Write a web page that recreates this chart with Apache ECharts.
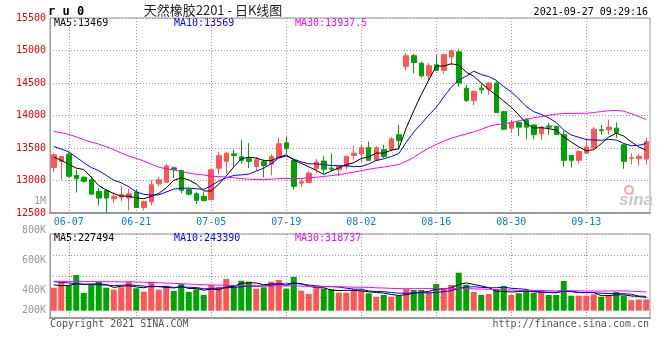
<!DOCTYPE html>
<html><head><meta charset="utf-8">
<script src="https://cdn.jsdelivr.net/npm/echarts@6.0.0/dist/echarts.min.js"></script>
<style>html,body{margin:0;padding:0;background:#fff}#c{width:660px;height:360px}</style>
</head><body><div id="c"></div>
<script>
const dates = ['06-03','06-04','06-07','06-08','06-09','06-10','06-11','06-15','06-16','06-17','06-18','06-21','06-22','06-23','06-24','06-25','06-28','06-29','06-30','07-01','07-02','07-05','07-06','07-07','07-08','07-09','07-12','07-13','07-14','07-15','07-16','07-19','07-20','07-21','07-22','07-23','07-26','07-27','07-28','07-29','07-30','08-02','08-03','08-04','08-05','08-06','08-09','08-10','08-11','08-12','08-13','08-16','08-17','08-18','08-19','08-20','08-23','08-24','08-25','08-26','08-27','08-30','08-31','09-01','09-02','09-03','09-06','09-07','09-08','09-09','09-10','09-13','09-14','09-15','09-16','09-17','09-22','09-23','09-24','09-27'];
const opens = [13200,13295,13405,13080,13050,13010,12830,12845,12720,12745,12730,12820,12585,12670,12950,12975,13195,13155,12860,12795,12755,12705,13190,13295,13410,13365,13335,13215,13290,13250,13355,13580,13310,12960,12970,13180,13300,13190,13165,13215,13385,13410,13505,13310,13475,13475,13705,14755,14920,14805,14610,14780,14695,14900,14980,14420,14230,14420,14405,14500,14060,13805,13895,13935,13855,13720,13840,13830,13705,13385,13310,13420,13500,13780,13780,13805,13550,13340,13335,13330];
const closes = [13395,13370,13065,13030,12985,12790,12730,12730,12755,12785,12795,12585,12675,12935,13010,13225,13170,12850,12790,12695,12690,13165,13380,13420,13385,13310,13295,13320,13230,13370,13565,13490,12910,12980,13115,13285,13175,13175,13215,13370,13420,13505,13310,13505,13370,13640,13615,14920,14815,14610,14765,14695,14935,14995,14500,14230,14370,14395,14500,14045,13790,13895,13820,13820,13705,13820,13820,13705,13310,13310,13445,13515,13790,13770,13820,13740,13295,13350,13370,13600];
const lows = [13125,13010,13050,12815,12970,12790,12615,12500,12655,12680,12540,12585,12540,12615,12910,12970,13040,12805,12770,12640,12680,12705,13095,13105,13215,13260,13190,13150,13050,13075,13345,13420,12860,12895,12970,13115,13105,13140,13065,13165,13320,13280,13305,13300,13345,13445,13475,14695,14650,14585,14540,14690,14640,14770,14445,14210,14160,14335,14320,14045,13780,13730,13680,13635,13635,13625,13705,13700,13215,13200,13260,13410,13475,13705,13705,13655,13180,13245,13225,13245];
const highs = [13420,13375,13430,13165,13065,13065,12885,12860,12815,12910,12875,12870,12690,13010,13050,13260,13215,13165,12890,12820,12820,13170,13445,13440,13475,13625,13575,13360,13320,13405,13655,13680,13320,13040,13140,13330,13380,13420,13230,13380,13535,13550,13600,13525,13550,13665,13855,14960,14950,14830,14805,14935,14950,15010,15020,14470,14385,14490,14510,14525,14065,13935,13910,13960,13865,13840,13885,13845,13765,13395,13465,13655,13820,13855,13935,13895,13555,13420,13395,13655];
const ma5 = [13360,13310,13250,13190,13170,13049,12921,12854,12799,12759,12760,12731,12720,12756,12801,12887,13004,13039,13010,12946,12839,12838,12944,13070,13209,13333,13358,13346,13308,13305,13356,13395,13313,13263,13212,13155,13093,13146,13193,13245,13272,13338,13365,13422,13422,13466,13489,13810,14073,14321,14545,14761,14761,14796,14774,14667,14603,14500,14401,14311,14222,14127,14010,13875,13806,13813,13798,13775,13672,13593,13518,13457,13474,13566,13669,13727,13683,13595,13515,13469];
const ma10 = [13524,13483,13442,13360,13275,13200,13150,13080,13005,12964,12904,12826,12787,12777,12780,12823,12868,12879,12883,12874,12863,12921,12992,13040,13078,13086,13098,13145,13189,13257,13345,13377,13330,13286,13258,13256,13244,13230,13228,13228,13214,13216,13255,13308,13333,13369,13413,13588,13747,13871,14006,14125,14286,14435,14547,14606,14682,14630,14599,14542,14445,14365,14255,14138,14059,14018,13963,13893,13774,13700,13665,13628,13624,13619,13631,13623,13570,13535,13541,13569];
const ma30 = [13755,13735,13709,13673,13627,13591,13560,13519,13473,13422,13376,13340,13300,13250,13205,13180,13160,13140,13115,13095,13085,13065,13060,13052,13042,13030,13020,13015,13015,13020,13030,13032,13030,13032,13040,13050,13062,13075,13090,13108,13127,13152,13173,13192,13206,13226,13247,13295,13355,13430,13500,13555,13605,13650,13685,13715,13748,13787,13833,13860,13872,13892,13918,13944,13965,13984,14005,14022,14030,14032,14033,14033,14046,14060,14074,14078,14067,14028,13984,13937.5];
// volumes in thousands (K)
const volumes = [391,493,437,607,301,437,493,391,357,398,493,381,323,493,357,425,335,454,318,364,267,437,398,539,437,510,493,374,398,493,522,374,573,340,284,381,374,369,306,306,364,340,296,238,267,238,255,369,352,352,313,454,386,437,646,442,318,267,284,352,420,267,296,340,306,340,267,267,505,255,255,255,275,235,267,320,255,180,190,192];
const vma5 = [440,425,430,460,446,455,455,446,396,415,426,404,390,418,409,396,387,413,378,379,348,368,357,401,416,464,475,471,442,454,456,432,472,460,419,390,390,350,343,347,344,337,322,309,301,276,259,273,296,313,328,368,371,388,447,473,446,422,391,333,328,318,324,335,326,310,310,304,337,327,310,307,309,255,257,270,270,251,242,227.494];
const vma10 = [493,485,470,460,452,445,440,435,428,431,441,430,418,407,412,411,395,402,398,394,372,377,385,389,397,406,422,414,422,435,460,454,471,451,436,423,411,411,402,383,367,364,336,326,324,310,298,298,303,307,302,313,322,342,380,401,407,397,390,390,401,382,373,363,329,319,314,314,336,326,310,309,307,296,292,290,289,280,249,243.39];
const vma30 = [500,499,498,497,496,495,494,493,492,491,490,488,484,480,475,470,465,459,453,447,442,438,435,432,429,427,425,423,421,420,424,420,425,416,415,413,409,409,407,404,400,398,397,389,386,380,377,374,375,375,376,377,377,373,380,378,372,368,365,360,357,353,344,344,345,343,340,336,343,341,337,335,334,334,334,337,337,330,325,318.737];
const dateLabels = ['06-07','06-21','07-05','07-19','08-02','08-16','08-30','09-13'];
const priceMin = 12500, priceMax = 15500, priceStep = 500;
const volTickLabels = ['800K','600K','400K','200K'];
const priceLegend = ['MA5:13469','MA10:13569','MA30:13937.5'];
const volLegend = ['MA5:227494','MA10:243390','MA30:318737'];

const UP = '#ff5555', DOWN = '#00a400';
const GRIDC = '#9a9a9a', FRAME = '#999999';
const MONO = '"DejaVu Sans Mono", "Liberation Mono", monospace';
const legendColors = ['#000000', '#0000ff', '#ff00ff'];
const legendX = [54, 174, 295];
const volLabelY = [230, 260, 290.5, 310.5];

const chart = echarts.init(document.getElementById('c'), null, {renderer: 'canvas'});
const isLabelDate = (i, v) => dateLabels.indexOf(v) >= 0;
const dotted = {color: GRIDC, width: 1, type: [1, 2]};

function txt(x, y, text, font, fill, align) {
  return {type: 'text', x: x, y: y, silent: true,
    style: {text: text, font: font, fill: fill, align: align || 'left', verticalAlign: 'middle'}};
}
const graphics = [
  txt(48, 12, 'r u 0', 'bold 12px ' + MONO, '#000'),
  txt(213, 10, '天然橡胶2201 - 日K线图', '13px "Noto Sans CJK SC"', '#222', 'center'),
  txt(648, 12, '2021-09-27 09:29:16', '10px ' + MONO, '#000', 'right'),
  txt(46, 201, '1M', '10px ' + MONO, '#999', 'right'),
  txt(50, 324, 'Copyright 2021 SINA.COM', '10px ' + MONO, '#555'),
  txt(649, 324, 'http://finance.sina.com.cn', '10px ' + MONO, '#555', 'right'),
  txt(636, 200, 'sina', 'italic bold 17px "Liberation Sans"', '#c8c8c8', 'center'),
  {type: 'circle', silent: true, shape: {cx: 629, cy: 190, r: 4}, style: {fill: 'none', stroke: '#f6a8a8', lineWidth: 2}}
];
priceLegend.forEach((t, i) => graphics.push(txt(legendX[i], 23.5, t, '10px ' + MONO, legendColors[i])));
volLegend.forEach((t, i) => graphics.push(txt(legendX[i], 238.5, t, '10px ' + MONO, legendColors[i])));
volTickLabels.forEach((t, i) => graphics.push(txt(46, volLabelY[i], t, '10px ' + MONO, '#9a9a9a', 'right')));

const kData = dates.map((d, i) => [opens[i], closes[i], lows[i], highs[i]]);
const volData = volumes.map((v, i) => ({value: v, itemStyle: {color: closes[i] >= opens[i] ? UP : DOWN}}));
const line = (name, data, color, xi, yi) => ({
  name: name, type: 'line', data: data, xAxisIndex: xi, yAxisIndex: yi,
  showSymbol: false, symbol: 'none', smooth: false, silent: true,
  lineStyle: {color: color, width: 1}, z: 5
});

chart.setOption({
  animation: false,
  backgroundColor: '#ffffff',
  grid: [
    {left: 50, right: 10, top: 18, height: 195, show: true, borderColor: FRAME, borderWidth: 1},
    {left: 50, right: 10, top: 234, height: 84, show: true, borderColor: FRAME, borderWidth: 1}
  ],
  xAxis: [
    {type: 'category', gridIndex: 0, data: dates, boundaryGap: true,
      axisLine: {lineStyle: {color: FRAME, width: 2}}, axisTick: {show: false},
      axisLabel: {interval: isLabelDate, color: '#0a80d8', fontFamily: MONO, fontSize: 10, margin: 4},
      splitLine: {show: true, interval: isLabelDate, alignWithLabel: true, lineStyle: dotted}},
    {type: 'category', gridIndex: 1, data: dates, boundaryGap: true,
      axisLine: {lineStyle: {color: FRAME, width: 2}}, axisTick: {show: false},
      axisLabel: {show: false},
      splitLine: {show: true, interval: isLabelDate, alignWithLabel: true, lineStyle: dotted}}
  ],
  yAxis: [
    {type: 'value', gridIndex: 0, min: priceMin, max: priceMax, interval: priceStep, position: 'left',
      axisLine: {show: true, lineStyle: {color: FRAME}}, axisTick: {show: false},
      axisLabel: {color: '#ee0000', fontFamily: MONO, fontSize: 10, margin: 4, padding: [0, 0, 3, 0],
        formatter: v => String(v)},
      splitLine: {show: true, lineStyle: dotted}},
    {type: 'value', gridIndex: 1, min: 0, max: 4, interval: 1, position: 'left',
      axisLine: {show: true, lineStyle: {color: FRAME}}, axisTick: {show: false},
      axisLabel: {show: false}, splitLine: {show: true, lineStyle: dotted}},
    {type: 'value', gridIndex: 1, min: -124, max: 1304, position: 'left', show: false,
      splitLine: {show: false}}
  ],
  series: [
    {type: 'candlestick', data: kData, xAxisIndex: 0, yAxisIndex: 0, barWidth: 5, silent: true,
      itemStyle: {color: UP, color0: DOWN, borderColor: UP, borderColor0: DOWN, borderWidth: 1}},
    line('MA5', ma5, legendColors[0], 0, 0),
    line('MA10', ma10, legendColors[1], 0, 0),
    line('MA30', ma30, legendColors[2], 0, 0),
    {type: 'bar', data: volData, xAxisIndex: 1, yAxisIndex: 2, barWidth: 6, silent: true},
    line('VMA5', vma5, legendColors[0], 1, 2),
    line('VMA10', vma10, legendColors[1], 1, 2),
    line('VMA30', vma30, legendColors[2], 1, 2)
  ],
  graphic: graphics
});
</script>
</body></html>
